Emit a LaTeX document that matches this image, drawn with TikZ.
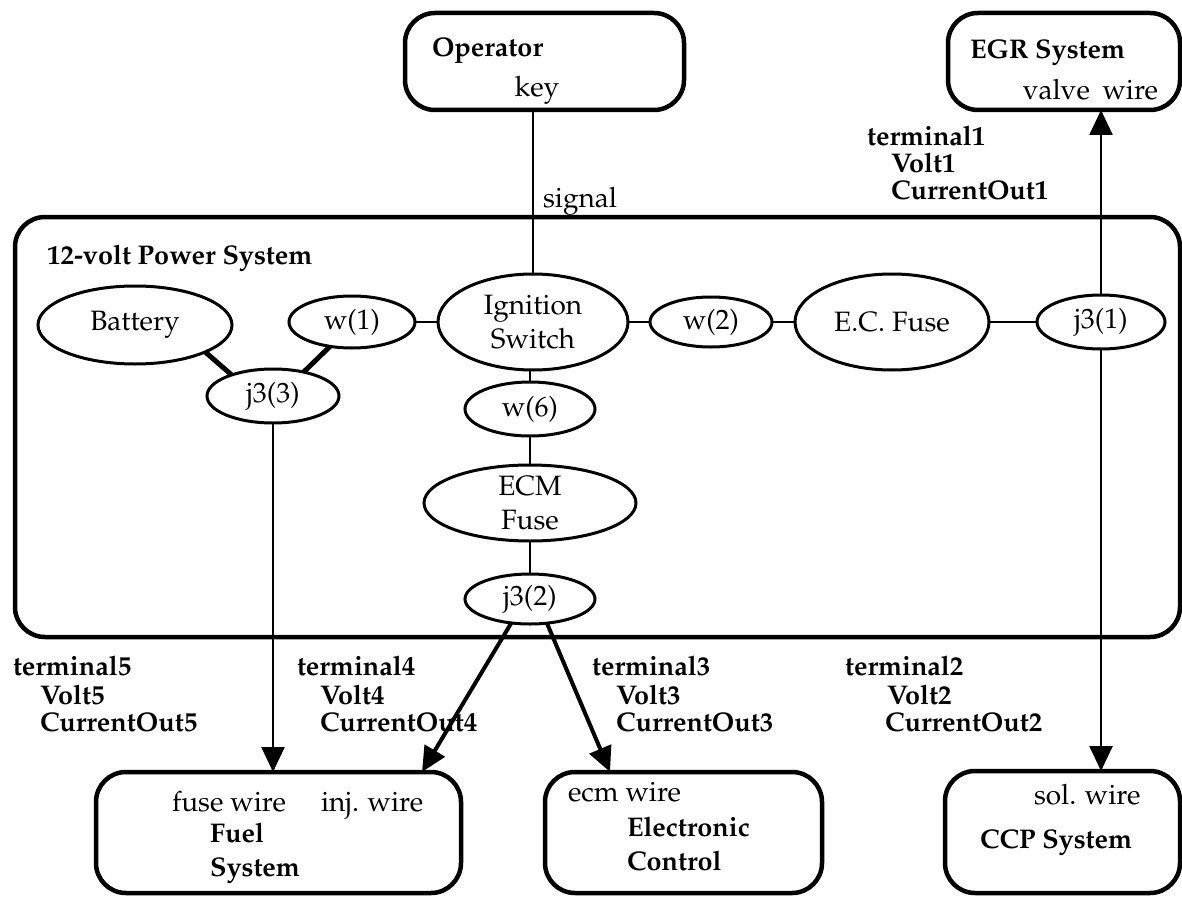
\documentclass[tikz,border=0pt]{standalone}
\usepackage[T1]{fontenc}
\renewcommand{\rmdefault}{ppl}
\usetikzlibrary{shapes.geometric,arrows.meta}
\begin{document}
\begin{tikzpicture}[x=1pt,y=-1pt,
  every node/.style={font=\fontsize{28}{34}\selectfont, inner sep=0pt, outer sep=0pt},
  bold/.style={font=\fontsize{27}{34}\selectfont\bfseries, anchor=base west},
  plain/.style={anchor=base west},
  blk/.style={draw, line width=4.5pt, rounded corners=30pt},
  ell/.style={draw, ellipse, line width=3pt},
  wire/.style={line width=2.5pt},
  fat/.style={line width=5pt},
  tip/.style={-{Triangle[length=25pt,width=23pt]}},
]
\useasboundingbox (0,0) rectangle (1182,896);

% outer subsystems
\node[blk, minimum width=279pt, minimum height=97pt]  (op)   at (544.5,61.5) {};
\node[blk, minimum width=232pt, minimum height=97pt]  (egr)  at (1064,61.5) {};
\node[blk, minimum width=1165pt, minimum height=420pt] (pwr) at (597.5,427) {};
\node[blk, minimum width=365pt, minimum height=121pt] (fuel) at (278.5,832.5) {};
\node[blk, minimum width=277pt, minimum height=121pt] (ectl) at (683.5,832.5) {};
\node[blk, minimum width=235pt, minimum height=122pt] (ccp)  at (1062.5,832) {};

% components of the power system
\node[ell, minimum width=194pt, minimum height=78pt, label={center:Battery}] (bat) at (135,325) {};
\node[ell, minimum width=126pt, minimum height=52pt, label={center:w(1)}] (w1) at (352,322) {};
\node[ell, minimum width=190pt, minimum height=96pt, label={[align=center]center:Ignition\\Switch}] (ign) at (533,322) {};
\node[ell, minimum width=122pt, minimum height=50pt, label={center:w(2)}] (w2) at (711,322) {};
\node[ell, minimum width=194pt, minimum height=96pt, label={center:E.C. Fuse}] (ecf) at (892,322) {};
\node[ell, minimum width=128pt, minimum height=54pt, label={center:j3(1)}] (j31) at (1101,322) {};
\node[ell, minimum width=132pt, minimum height=54pt, label={center:j3(3)}] (j33) at (273,396) {};
\node[ell, minimum width=130pt, minimum height=54pt, label={center:w(6)}] (w6) at (530,409) {};
\node[ell, minimum width=212pt, minimum height=76pt, label={[align=center]center:ECM\\Fuse}] (ecm) at (530,503) {};
\node[ell, minimum width=130pt, minimum height=50pt, label={center:j3(2)}] (j32) at (530,599) {};

% box texts
\node[bold]  (opname)  at (432,57)   {Operator};
\node[anchor=base] (opkey) at (537,97) {key};
\node[bold]  (egrname) at (970,59)   {EGR System};
\node[anchor=base east] (egrw) at (1158,100) {valve\hspace{0.45em}wire};
\node[bold]  (pwrname) at (47,264)   {12-volt Power System};
\node[plain] (fusew)   at (172,811)  {fuse wire};
\node[plain] (injw)    at (321,811)  {inj. wire};
\node[bold]  (fuelA)   at (210,842)  {Fuel};
\node[bold]  (fuelB)   at (210,876)  {System};
\node[plain] (ecmw)    at (568,801)  {ecm wire};
\node[bold]  (ectlA)   at (627,836)  {Electronic};
\node[bold]  (ectlB)   at (627,870)  {Control};
\node[plain] (solw)    at (1034,804) {sol. wire};
\node[bold]  (ccpname) at (980,848)  {CCP System};

% connector labels
\node[plain] (sig) at (543,207) {signal};
\node[bold] (t1a) at (867,146) {terminal1};
\node[bold] (t1b) at (891,173) {Volt1};
\node[bold] (t1c) at (891,200) {CurrentOut1};
\node[bold] (t5a) at (13,675)  {terminal5};
\node[bold] (t5b) at (40,704)  {Volt5};
\node[bold] (t5c) at (40,731)  {CurrentOut5};
\node[bold] (t4a) at (297,675) {terminal4};
\node[bold] (t4b) at (320,704) {Volt4};
\node[bold] (t4c) at (320,731) {CurrentOut4};
\node[bold] (t3a) at (592,675) {terminal3};
\node[bold] (t3b) at (616,704) {Volt3};
\node[bold] (t3c) at (616,731) {CurrentOut3};
\node[bold] (t2a) at (845,675) {terminal2};
\node[bold] (t2b) at (887,704) {Volt2};
\node[bold] (t2c) at (885,731) {CurrentOut2};

% arrow ends on the fuel and electronic control boxes
\coordinate (injend) at (422,772);
\coordinate (ecmend) at (610,772);

% wiring inside the power system
\draw[wire] (ign.north) -- (ign.north |- op.south);
\draw[wire] (w1.east) -- (ign.west);
\draw[wire] (ign.east) -- (w2.west);
\draw[wire] (w2.east) -- (ecf.west);
\draw[wire] (ecf.east) -- (j31.west);
\draw[fat] (bat.-21) -- (j33.153);
\draw[fat] (w1.228) -- (j33.38);
\draw[wire] (ign.south -| w6.north) -- (w6.north);
\draw[wire] (w6.south) -- (ecm.north);
\draw[wire] (ecm.south) -- (j32.north);

% power outputs
\draw[wire, tip] (j31.north) -- (j31.north |- egr.south);
\draw[wire, tip] (j31.south) -- (j31.south |- ccp.north);
\draw[wire, tip] (j33.south) -- (j33.south |- fuel.north);
\draw[line width=4pt, tip] (j32.232) -- (injend);
\draw[line width=4pt, tip] (j32.305) -- (ecmend);
\end{tikzpicture}
\end{document}
